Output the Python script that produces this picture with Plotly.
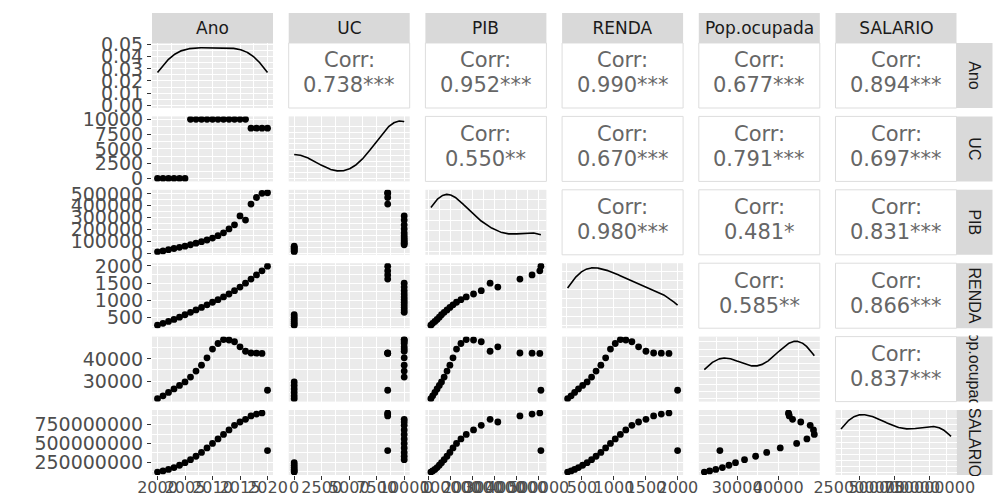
import numpy as np
import plotly.graph_objects as go

# ---------------- data ----------------
var_names = ["Ano", "UC", "PIB", "RENDA", "Pop.ocupada", "SALARIO"]
ano = [2000, 2001, 2002, 2003, 2004, 2005, 2006, 2007, 2008, 2009, 2010,
       2011, 2012, 2013, 2014, 2015, 2016, 2017, 2018, 2019, 2020]
uc = [0, 0, 0, 0, 0, 0, 10000, 10000, 10000, 10000, 10000,
      10000, 10000, 10000, 10000, 10000, 10000, 8500, 8500, 8500, 8500]
pib = [12000, 20000, 30000, 40000, 50000, 60000, 72000, 85000, 98000, 112000, 128000,
       148000, 172000, 205000, 240000, 315000, 280000, 415000, 470000, 505000, 510000]
renda = [275, 330, 385, 445, 510, 580, 650, 720, 795, 870, 945,
         1020, 1100, 1185, 1280, 1385, 1500, 1620, 1740, 1860, 1995]
pop_ocupada = [22000, 23300, 24800, 26400, 28000, 29600, 31800, 34500, 37200, 40500, 44500,
               47000, 48800, 48600, 47800, 45500, 43500, 42700, 42600, 42500, 25800]
salario = [120e6, 135e6, 155e6, 180e6, 210e6, 245e6, 285e6, 330e6, 380e6, 440e6, 500e6,
           560e6, 620e6, 680e6, 740e6, 785e6, 820e6, 865e6, 890e6, 905e6, 405e6]

# upper-triangle correlation labels, row by row
corr_labels = ["0.738***", "0.952***", "0.990***", "0.677***", "0.894***",
               "0.550**", "0.670***", "0.791***", "0.697***",
               "0.980***", "0.481*", "0.831***",
               "0.585**", "0.866***",
               "0.837***"]

# tick values / labels per variable
ano_ticks = [2000, 2005, 2010, 2015, 2020]
uc_ticks = [0, 2500, 5000, 7500, 10000]
pib_ticks = [0, 100000, 200000, 300000, 400000, 500000]
renda_ticks = [500, 1000, 1500, 2000]
pop_ticks = [30000, 40000]
salario_ticks = [250000000, 500000000, 750000000]
ano_density_ticks = [0.00, 0.01, 0.02, 0.03, 0.04, 0.05]
ano_density_labels = ["0.00", "0.01", "0.02", "0.03", "0.04", "0.05"]

data = [ano, uc, pib, renda, pop_ocupada, salario]
ticks = [ano_ticks, uc_ticks, pib_ticks, renda_ticks, pop_ticks, salario_ticks]

# ---------------- geometry ----------------
W, H = 996, 497
N = 6
col_left = [152 + i * 136.7 for i in range(N)]
col_w = 121
row_top = [43 + i * 73.4 for i in range(N)]
row_h = 65
strip_top = 13
strip_right_w = 36

FONT = "DejaVu Sans"
TICKFONT = dict(family=FONT, size=19, color="#4D4D4D")
XTICKFONT = dict(family=FONT, size=16, color="#4D4D4D")
BG = "#EBEBEB"


def xdom(c):
    return [col_left[c] / W, (col_left[c] + col_w) / W]


def ydom(r):
    return [1 - (row_top[r] + row_h) / H, 1 - row_top[r] / H]


def kde(v, n=512):
    v = np.asarray(v, float)
    sd = v.std(ddof=1)
    q25, q75 = np.percentile(v, [25, 75])
    lo = min(sd, (q75 - q25) / 1.34)
    if lo <= 0:
        lo = sd
    bw = 0.9 * lo * len(v) ** -0.2
    xs = np.linspace(v.min(), v.max(), n)
    ys = np.exp(-0.5 * ((xs[:, None] - v[None, :]) / bw) ** 2).sum(1) / (len(v) * bw * np.sqrt(2 * np.pi))
    return xs, ys


def nice_ticks(lo, hi, n=5):
    raw = (hi - lo) / n
    mag = 10 ** np.floor(np.log10(raw))
    step = mag
    for m in [1, 2, 2.5, 5, 10]:
        step = m * mag
        if step >= raw:
            break
    start = np.ceil(lo / step) * step
    return list(np.arange(start, hi + step * 1e-9, step))


def minor_of(t, rng):
    t = list(t)
    if len(t) < 2:
        return []
    step = t[1] - t[0]
    m = [t[0] - step / 2] + [(a + b) / 2 for a, b in zip(t[:-1], t[1:])] + [t[-1] + step / 2]
    return [v for v in m if rng[0] <= v <= rng[1]]


def rng_of(v):
    lo, hi = min(v), max(v)
    e = (hi - lo) * 0.05
    return [lo - e, hi + e]


def fmt(v):
    return "%d" % v


fig = go.Figure()
layout = {}
shapes = []
annotations = []

for r in range(N):
    for c in range(N):
        if c > r:
            continue
        k = r * N + c + 1
        xa = "x" if k == 1 else "x%d" % k
        ya = "y" if k == 1 else "y%d" % k
        xr = rng_of(data[c])
        if r == c:
            xs, ys = kde(data[c])
            fig.add_trace(go.Scatter(x=xs, y=ys, mode="lines", line=dict(color="black", width=1.6),
                                     xaxis=xa, yaxis=ya, showlegend=False, hoverinfo="skip"))
            ymax = ys.max()
            yr = [-0.05 * ymax, 1.08 * ymax]
            if r == 0:
                yt = ano_density_ticks
                ytt = ano_density_labels
            else:
                yt = nice_ticks(0, ymax)
                ytt = ["" for _ in yt]
        else:
            fig.add_trace(go.Scatter(x=data[c], y=data[r], mode="markers",
                                     marker=dict(color="black", size=6.8, line=dict(width=0)),
                                     xaxis=xa, yaxis=ya, showlegend=False, hoverinfo="skip"))
            yr = rng_of(data[r])
            yt = ticks[r]
            ytt = [fmt(v) for v in yt]
        xt = ticks[c]
        xtt = [fmt(v) for v in xt]
        xkey = "xaxis" if k == 1 else "xaxis%d" % k
        ykey = "yaxis" if k == 1 else "yaxis%d" % k
        layout[xkey] = dict(
            domain=xdom(c), range=xr, anchor=ya, tickmode="array", tickvals=xt, ticktext=xtt,
            showticklabels=(r == N - 1), ticks="outside" if r == N - 1 else "",
            ticklen=4, tickwidth=1.1, tickcolor="#333333", tickangle=0, tickfont=XTICKFONT,
            ticklabelstandoff=-6,
            showgrid=True, gridcolor="white", gridwidth=1.3, zeroline=False, showline=False,
            minor=dict(tickvals=minor_of(xt, xr), showgrid=True, gridcolor="white", gridwidth=0.6, ticks=""),
            fixedrange=True, automargin=False,
        )
        layout[ykey] = dict(
            domain=ydom(r), range=yr, anchor=xa, tickmode="array", tickvals=yt, ticktext=ytt,
            showticklabels=(c == 0), ticks="outside" if c == 0 else "",
            ticklen=4, tickwidth=1.1, tickcolor="#333333", tickfont=TICKFONT,
            showgrid=True, gridcolor="white", gridwidth=1.3, zeroline=False, showline=False,
            minor=dict(tickvals=minor_of(yt, yr), showgrid=True, gridcolor="white", gridwidth=0.6, ticks=""),
            fixedrange=True, automargin=False,
        )

# correlation panels
CORRFONT = dict(family=FONT, size=21, color="#666666")
idx = 0
for r in range(N):
    for c in range(N):
        if c <= r:
            continue
        x0, x1 = xdom(c)
        y0, y1 = ydom(r)
        shapes.append(dict(type="rect", xref="paper", yref="paper", x0=x0, x1=x1, y0=y0, y1=y1,
                           fillcolor="white", line=dict(color="#DDDDDD", width=1), layer="below"))
        cy = row_top[r] + row_h / 2
        cx = (x0 + x1) / 2
        annotations.append(dict(text="Corr:", x=cx, y=1 - (cy - 15) / H, xref="paper", yref="paper",
                                showarrow=False, xanchor="center", yanchor="middle", font=CORRFONT))
        annotations.append(dict(text=corr_labels[idx], x=cx, y=1 - (cy + 10) / H, xref="paper", yref="paper",
                                showarrow=False, xanchor="center", yanchor="middle", font=CORRFONT))
        idx += 1

# strips
TOPSTRIPFONT = dict(family=FONT, size=17, color="#1A1A1A")
SIDESTRIPFONT = dict(family="Liberation Sans", size=16, color="#1A1A1A")
for i, name in enumerate(var_names):
    x0, x1 = xdom(i)
    shapes.append(dict(type="rect", xref="paper", yref="paper", x0=x0, x1=x1,
                       y0=1 - row_top[0] / H, y1=1 - strip_top / H,
                       fillcolor="#D9D9D9", line=dict(width=0), layer="below"))
    annotations.append(dict(text=name, x=(x0 + x1) / 2, y=1 - (strip_top + row_top[0]) / 2 / H,
                            xref="paper", yref="paper", showarrow=False, xanchor="center", yanchor="middle",
                            width=col_w - 2, font=TOPSTRIPFONT))
    y0, y1 = ydom(i)
    sx0 = (col_left[-1] + col_w) / W
    sx1 = (col_left[-1] + col_w + strip_right_w) / W
    shapes.append(dict(type="rect", xref="paper", yref="paper", x0=sx0, x1=sx1, y0=y0, y1=y1,
                       fillcolor="#D9D9D9", line=dict(width=0), layer="below"))
    annotations.append(dict(text=name, x=(sx0 + sx1) / 2, y=(y0 + y1) / 2, xref="paper", yref="paper",
                            showarrow=False, xanchor="center", yanchor="middle", textangle=90,
                            width=row_h + 2, font=SIDESTRIPFONT))

fig.update_layout(
    template="none",
    width=W, height=H, margin=dict(l=0, r=0, t=0, b=0, autoexpand=False),
    paper_bgcolor="white", plot_bgcolor=BG, showlegend=False,
    shapes=shapes, annotations=annotations, font=dict(family=FONT),
    **layout,
)

fig.write_html("out.html", config={"displayModeBar": False})
